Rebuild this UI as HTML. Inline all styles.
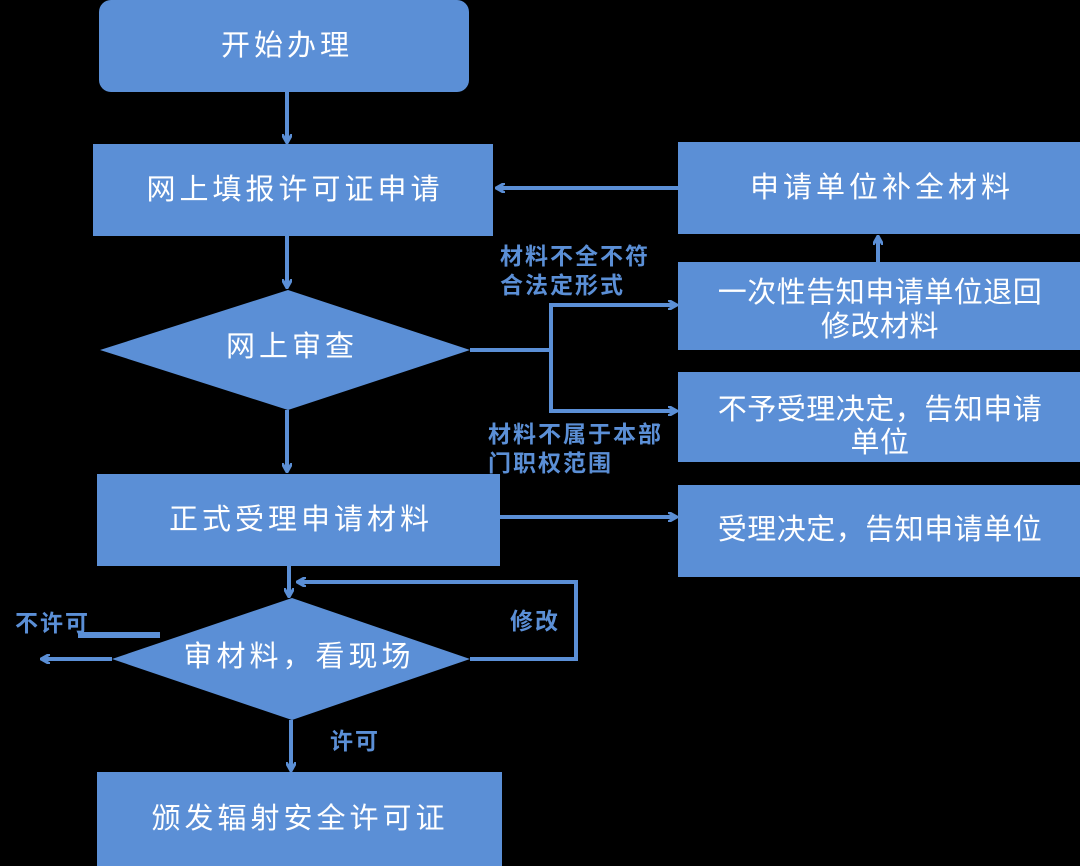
<!DOCTYPE html><html><head><meta charset="utf-8"><style>html,body{margin:0;background:#000}svg{display:block}
.t{font-family:"Liberation Sans","Noto Sans CJK SC",sans-serif;fill:#fff;font-size:29px;letter-spacing:4px;text-anchor:middle;dominant-baseline:central}
.r{letter-spacing:0.5px}
.l{font-family:"Liberation Sans","Noto Sans CJK SC",sans-serif;fill:#5b8fd6;font-size:23px;letter-spacing:2px;font-weight:bold}
</style></head><body>
<svg width="1080" height="866" viewBox="0 0 1080 866">
<defs><marker id="a" markerWidth="10" markerHeight="10" refX="8" refY="5" orient="auto" markerUnits="userSpaceOnUse"><path d="M0,0 L9,5 L0,10" fill="none" stroke="#5b8fd6" stroke-width="3"/></marker></defs>
<g fill="#5b8fd6">
<rect x="99" y="0" width="370" height="92" rx="12"/>
<rect x="93" y="144" width="400" height="92"/>
<rect x="678" y="142" width="402" height="92"/>
<rect x="678" y="262" width="402" height="88"/>
<rect x="678" y="372" width="402" height="90"/>
<rect x="678" y="485" width="402" height="92"/>
<polygon points="100,350 288,290 470,350 288,410"/>
<rect x="97" y="474" width="403" height="92"/>
<polygon points="112,659 292,598 470,659 292,720"/>
<rect x="97" y="772" width="405" height="94"/>
<rect x="78" y="632" width="82" height="6"/>
</g>
<g stroke="#5b8fd6" stroke-width="4" fill="none" marker-end="url(#a)">
<line x1="287" y1="92" x2="287" y2="142"/>
<line x1="678" y1="188" x2="497" y2="188"/>
<line x1="878" y1="262" x2="878" y2="237"/>
<line x1="287" y1="236" x2="287" y2="287"/>
<line x1="287" y1="410" x2="287" y2="471"/>
<polyline points="551,305 676,305"/>
<polyline points="551,411 676,411"/>
<line x1="500" y1="517" x2="676" y2="517"/>
<line x1="289" y1="566" x2="289" y2="596"/>
<polyline points="470,659 576,659 576,582 298,582"/>
<line x1="112" y1="659" x2="42" y2="659"/>
<line x1="291" y1="720" x2="291" y2="770"/>
</g>
<g stroke="#5b8fd6" stroke-width="4" fill="none"><polyline points="470,350 551,350"/><line x1="551" y1="303" x2="551" y2="413"/></g>
<text class="t" x="287" y="46">开始办理</text>
<text class="t" x="295" y="190">网上填报许可证申请</text>
<text class="t" x="882" y="188">申请单位补全材料</text>
<text class="t r" x="880" y="293">一次性告知申请单位退回</text>
<text class="t r" x="880" y="327">修改材料</text>
<text class="t r" x="880" y="410">不予受理决定，告知申请</text>
<text class="t r" x="880" y="443">单位</text>
<text class="t r" x="880" y="530">受理决定，告知申请单位</text>
<text class="t" x="292" y="347">网上审查</text>
<text class="t" x="301" y="520">正式受理申请材料</text>
<text class="t" x="299" y="657">审材料，看现场</text>
<text class="t" x="300" y="819">颁发辐射安全许可证</text>
<text class="l" x="500" y="264">材料不全不符</text>
<text class="l" x="500" y="293">合法定形式</text>
<text class="l" x="488" y="442">材料不属于本部</text>
<text class="l" x="488" y="471">门职权范围</text>
<text class="l" x="15" y="631">不许可</text>
<text class="l" x="510" y="629">修改</text>
<text class="l" x="330" y="749">许可</text>
</svg></body></html>
